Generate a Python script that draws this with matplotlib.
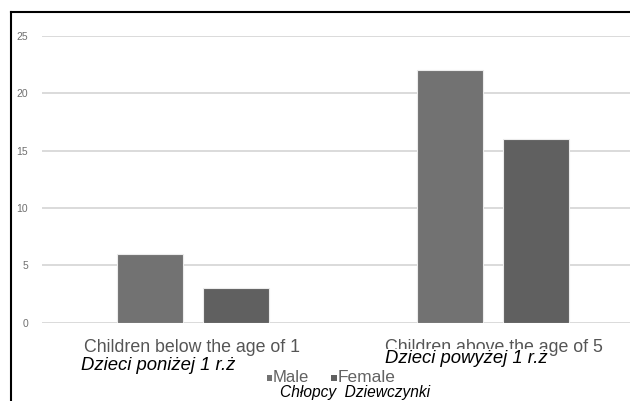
import matplotlib
matplotlib.use("Agg")
import matplotlib.pyplot as plt
from matplotlib.lines import Line2D
from matplotlib.patches import Rectangle
import numpy as np

categories = ["Children below the age of 1", "Children above the age of 5"]
categories_pl = ["Dzieci poniżej 1 r.ż", "Dzieci powyżej 1 r.ż"]
series_names = ["Male", "Female"]
series_names_pl = ["Chłopcy", "Dziewczynki"]
male = [6, 22]
female = [3, 16]
yticks = [0, 5, 10, 15, 20, 25]

W, H = 630, 401
plt.rcParams['font.family'] = ['Liberation Sans', 'DejaVu Sans']
fig = plt.figure(figsize=(W / 100, H / 100), dpi=100)

def fx(px):
    return px / W

def fy(py):
    return 1 - py / H

ax_left, ax_right = 42, 642.8
ax_top, ax_bot = 36, 322.7
ax = fig.add_axes([fx(ax_left), fy(ax_bot), (ax_right - ax_left) / W, (ax_bot - ax_top) / H])
ax.set_xlim(-0.503, 1.5)
ax.set_ylim(0, 25)

colors = ["#727272", "#606060"]
x = np.arange(len(categories))
bw = 0.221
off = 0.143
ax.bar(x - off, male, bw, color=colors[0], zorder=3,
       edgecolor="#ececec", linewidth=0.8)
ax.bar(x + off, female, bw, color=colors[1], zorder=3,
       edgecolor="#ececec", linewidth=0.8)

ax.set_yticks(yticks)
ax.yaxis.grid(True, color="#d4d4d4", linewidth=1.2, zorder=0)
ax.set_axisbelow(True)
for s in ax.spines.values():
    s.set_visible(False)
ax.tick_params(axis="y", length=0, labelsize=7.5, labelcolor="#707070", pad=10)
ax.set_xticks([])

# category labels (English, gray)
cat_x = [192, 493.5]
for cx, txt in zip(cat_x, categories):
    fig.text(fx(cx), fy(351.5), txt, ha="center", va="baseline",
             fontsize=12.8, color="#555555")

# Polish labels (italic black on white)
pl_pos = [(81, 370), (385, 363)]
for (px, py), txt in zip(pl_pos, categories_pl):
    fig.text(fx(px), fy(py), txt, ha="left", va="baseline", fontsize=13.3,
             style="italic", color="black",
             bbox=dict(facecolor="white", edgecolor="none", pad=1.0))

# legend
leg_y = 382.5
sq = 5.5
for (sx, tx), name, col, fs in zip([(266.5, 273), (331, 338)], series_names, colors, [12, 12.5]):
    fig.add_artist(Rectangle((fx(sx), fy(380.5)), sq / W, sq / H,
                             facecolor=col, edgecolor="none"))
    fig.text(fx(tx), fy(leg_y), name, ha="left", va="baseline",
             fontsize=fs, color="#626262")
fig.text(fx(280), fy(397), series_names_pl[0] + "  " + series_names_pl[1],
         ha="left", va="baseline", fontsize=11.2, style="italic", color="black")

# outer frame
fig.add_artist(Line2D([fx(10.5), fx(10.5)], [fy(12), 0], color="black", linewidth=1.5))
fig.add_artist(Line2D([fx(10.5), 1], [fy(12), fy(12)], color="black", linewidth=1.5))

fig.savefig("out.png", dpi=100)
